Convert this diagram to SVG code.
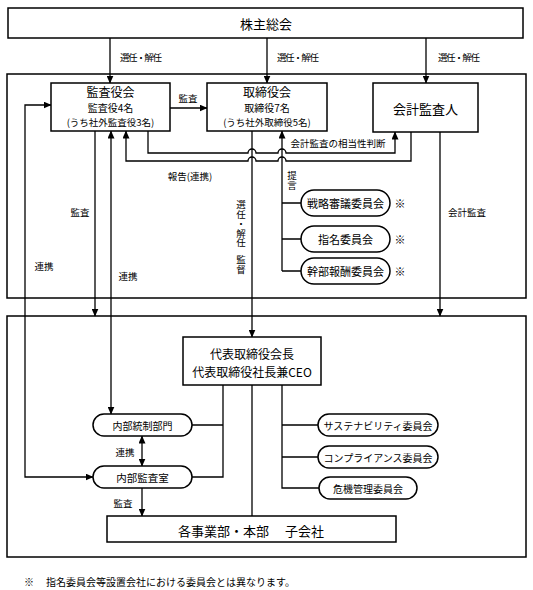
<svg xmlns="http://www.w3.org/2000/svg" width="533" height="590" viewBox="0 0 533 590">
<style>
.box{fill:#fff;stroke:#000;stroke-width:1.5}
.frame{fill:none;stroke:#000;stroke-width:1.5}
.ln{fill:none;stroke:#000;stroke-width:1.3}
.a{marker-end:url(#ah)}
.aa{marker-start:url(#ah);marker-end:url(#ah)}
text{font-family:"Noto Sans CJK JP","Noto Sans CJK SC",sans-serif;fill:#000;text-anchor:middle;dominant-baseline:central}
.vt{writing-mode:vertical-rl;text-anchor:start;dominant-baseline:auto}
.st{text-anchor:start}
.t13{font-size:13px}
.t12{font-size:12px}
.t11{font-size:11px}
.t105{font-size:10.5px}
.t10{font-size:10px}
.lb{font-size:9.5px}
</style>
<defs>
<marker id="ah" markerUnits="userSpaceOnUse" markerWidth="8" markerHeight="7" refX="7.5" refY="3.5" orient="auto-start-reverse">
<path d="M0,0 L8,3.5 L0,7 z" fill="#000"/>
</marker>
</defs>

<!-- frames -->
<rect class="frame" x="7" y="74" width="519" height="224"/>
<rect class="frame" x="7" y="316" width="519" height="241"/>

<!-- connectors -->
<g id="connectors">
<path class="ln a" d="M110,38 V83"/>
<path class="ln a" d="M267,38 V83"/>
<path class="ln a" d="M426,38 V83"/>
<path class="ln a" d="M170,108 H207"/>
<path class="ln aa" d="M51,105 H25 V477 H93"/>
<path class="ln a" d="M95,131 V316"/>
<path class="ln aa" d="M111,131 V414"/>
<path class="ln a" d="M148,131 V153 H248 a4,4 0 0 1 8,0 H278 a4,4 0 0 1 8,0 H395 V132"/>
<path class="ln a" d="M411,132 V161 H286 a4,4 0 0 0 -8,0 H256 a4,4 0 0 0 -8,0 H126 V131"/>
<path class="ln a" d="M252,131 V337"/>
<path class="ln a" d="M282,271 V131"/>
<path class="ln" d="M282,203 H301 M282,239 H301 M282,271 H301"/>
<path class="ln a" d="M440,132 V316"/>
<path class="ln" d="M252,384 V516"/>
<path class="ln" d="M223,384 V477 H192 M223,425 H192"/>
<path class="ln" d="M282,384 V488 H319 M282,425 H318 M282,457 H318"/>
<path class="ln aa" d="M142,436 V466"/>
<path class="ln a" d="M142,488 V516"/>
</g>

<!-- connector labels -->
<g id="labels">
<text class="lb st" x="120" y="57" textLength="42" lengthAdjust="spacing">選任・解任</text>
<text class="lb st" x="277" y="57" textLength="42" lengthAdjust="spacing">選任・解任</text>
<text class="lb st" x="438" y="57" textLength="42" lengthAdjust="spacing">選任・解任</text>
<text class="lb" x="188" y="98">監査</text>
<text class="lb" x="338" y="143">会計監査の相当性判断</text>
<text class="lb" x="190" y="176">報告(連携)</text>
<text class="lb" x="80" y="212">監査</text>
<text class="lb" x="44" y="266">連携</text>
<text class="lb" x="128" y="276">連携</text>
<text class="lb" x="467" y="212">会計監査</text>
<text class="lb vt" x="292" y="171">提言</text>
<text class="lb vt" x="241" y="200">選任・解任</text>
<text class="lb vt" x="241" y="255">監督</text>
<text class="lb" x="125" y="452">連携</text>
<text class="lb" x="123" y="503">監査</text>
</g>

<!-- nodes -->
<g id="shareholders">
<rect class="box" x="8" y="8" width="515" height="30"/>
<text class="t13" x="266" y="23">株主総会</text>
</g>
<g id="auditboard">
<rect class="box" x="51" y="83" width="119" height="48"/>
<text class="t12" x="110.5" y="91.5">監査役会</text>
<text class="t10" x="110.5" y="107.5">監査役4名</text>
<text class="lb" x="110.5" y="122">(うち社外監査役3名)</text>
</g>
<g id="board">
<rect class="box" x="207" y="83" width="120" height="48"/>
<text class="t12" x="267" y="91.5">取締役会</text>
<text class="t10" x="267" y="107.5">取締役7名</text>
<text class="lb" x="267" y="122">(うち社外取締役5名)</text>
</g>
<g id="accountant">
<rect class="box" x="373" y="83" width="105" height="49"/>
<text class="t13" x="425.5" y="108">会計監査人</text>
</g>
<g id="strategy">
<rect class="box" x="301" y="190" width="89" height="26" rx="13"/>
<text class="t11" x="345.5" y="203">戦略審議委員会</text>
<text class="t11" x="400" y="203">※</text>
</g>
<g id="nomination">
<rect class="box" x="301" y="226" width="89" height="26" rx="13"/>
<text class="t11" x="345.5" y="239">指名委員会</text>
<text class="t11" x="400" y="239">※</text>
</g>
<g id="compensation">
<rect class="box" x="301" y="258" width="89" height="26" rx="13"/>
<text class="t11" x="345.5" y="271">幹部報酬委員会</text>
<text class="t11" x="400" y="271">※</text>
</g>
<g id="ceo">
<rect class="box" x="183" y="337" width="138" height="48"/>
<text class="t12"><tspan x="252" y="353">代表取締役会長</tspan><tspan x="252" y="371">代表取締役社長兼CEO</tspan></text>
</g>
<g id="internalcontrol">
<rect class="box" x="93" y="414" width="99" height="22" rx="11"/>
<text class="t10" x="142.5" y="425">内部統制部門</text>
</g>
<g id="internalaudit">
<rect class="box" x="93" y="466" width="99" height="22" rx="11"/>
<text class="t105" x="142.5" y="477">内部監査室</text>
</g>
<g id="sustainability">
<rect class="box" x="318" y="414" width="120" height="22" rx="11"/>
<text class="t10" x="378" y="425">サステナビリティ委員会</text>
</g>
<g id="compliance">
<rect class="box" x="318" y="446" width="120" height="22" rx="11"/>
<text class="t10" x="378" y="457">コンプライアンス委員会</text>
</g>
<g id="risk">
<rect class="box" x="319" y="477" width="98" height="22" rx="11"/>
<text class="t10" x="368" y="488">危機管理委員会</text>
</g>
<g id="divisions">
<rect class="box" x="107" y="516" width="289" height="26"/>
<text class="t13 st" x="178" y="530">各事業部・本部</text>
<text class="t13 st" x="285" y="530">子会社</text>
</g>

<text class="t10 st" x="24" y="581">※</text>
<text class="t10 st" x="46" y="581">指名委員会等設置会社における委員会とは異なります。</text>
</svg>
